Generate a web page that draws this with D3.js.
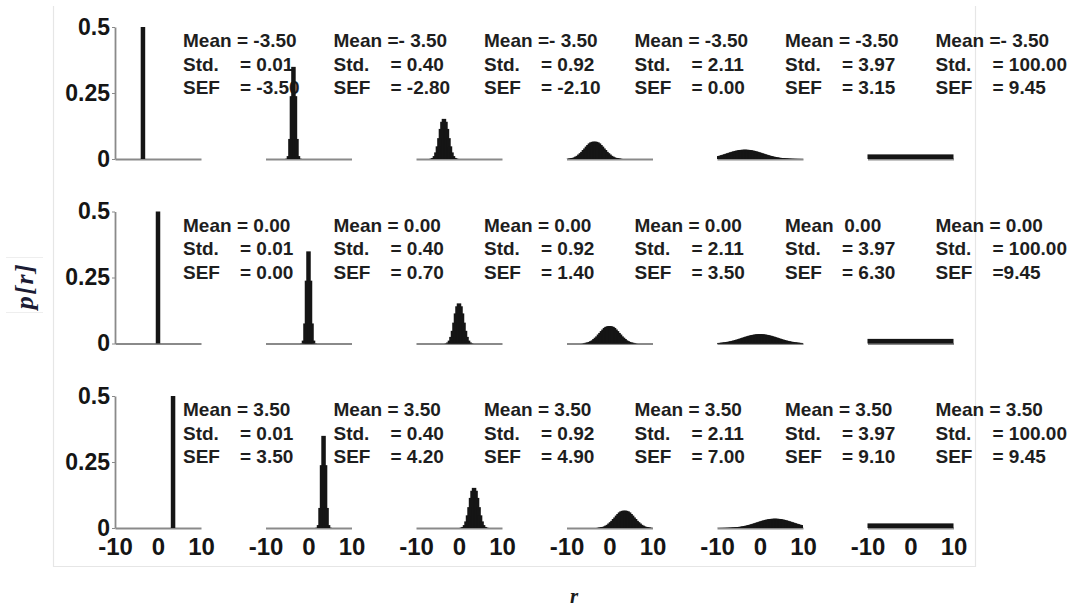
<!DOCTYPE html>
<html>
<head>
<meta charset="utf-8">
<script src="https://cdn.jsdelivr.net/npm/d3@7"></script>
<style>
  html, body { margin: 0; padding: 0; background: #fff; }
  svg { display: block; }
  text { white-space: pre; }
</style>
</head>
<body>
<svg id="chart" width="1072" height="609"></svg>
<script>
// ---------------- DATA ----------------
const rowMeans = [-3.5, 0, 3.5];                 // mean of r for each row
const colStd = [0.01, 0.40, 0.92, 2.11, 3.97, 100.00];
const binStep = 0.35;                            // width of an r bin

// half profiles of p[r] (centre bin, then bins 1,2,3... away from the mean)
const profileStd001 = [0.5];
const profileStd040 = [0.349, 0.238, 0.076, 0.011, 0.001];
const profileStd092 = [0.152, 0.141, 0.114, 0.079, 0.048, 0.025, 0.011, 0.004, 0.0015];
const profileStd211 = [0.066, 0.065, 0.063, 0.059, 0.053, 0.047, 0.040, 0.034, 0.027,
                       0.022, 0.017, 0.012, 0.009, 0.006, 0.004, 0.003, 0.002, 0.001];
const profileStd397 = [0.0352, 0.0350, 0.0346, 0.0340, 0.0330, 0.0319, 0.0306, 0.0291,
                       0.0274, 0.0257, 0.0238, 0.0220, 0.0201, 0.0182, 0.0164, 0.0147,
                       0.0130, 0.0114, 0.0100, 0.0086, 0.0074, 0.0063, 0.0054, 0.0045,
                       0.0037, 0.0031, 0.0025, 0.0021, 0.0017, 0.0013, 0.0011, 0.0008,
                       0.0006, 0.0005, 0.0004, 0.0003, 0.0002, 0.0002, 0.0001];
const uniformLevel = 0.0175;                     // std = 100 -> flat over [-10, 10]
const colProfiles = [profileStd001, profileStd040, profileStd092, profileStd211, profileStd397, null];

// annotation texts
const meanText = [
  ["= -3.50", "=- 3.50", "=- 3.50", "= -3.50", "= -3.50", "=- 3.50"],
  ["= 0.00",  "= 0.00",  "= 0.00",  "= 0.00",  " 0.00",   "= 0.00"],
  ["= 3.50",  "= 3.50",  "= 3.50",  "= 3.50",  "= 3.50",  "= 3.50"]
];
const stdText = ["= 0.01", "= 0.40", "= 0.92", "= 2.11", "= 3.97", "= 100.00"];
const sefText = [
  ["= -3.50", "= -2.80", "= -2.10", "= 0.00", "= 3.15", "= 9.45"],
  ["= 0.00",  "= 0.70",  "= 1.40",  "= 3.50", "= 6.30", "=9.45"],
  ["= 3.50",  "= 4.20",  "= 4.90",  "= 7.00", "= 9.10", "= 9.45"]
];
const xTicks = [-10, 0, 10];
const xTickLabels = ["-10", "0", "10"];
const yTicks = [0, 0.25, 0.5];
const yTickLabels = ["0", "0.25", "0.5"];

// ---------------- LAYOUT ----------------
const svg = d3.select("#chart");
const panelX0 = 115, colStep = 150.5, panelW = 86;
const rowZero = 159, rowStep = 184.5, panelH = 132;
const barW = 4.5;
const ink = "#151515", axisGray = "#8a8a8a";

// outer faint frame
svg.append("path")
  .attr("d", "M53.5,6 V566.5 H975.5 V6")
  .attr("fill", "none").attr("stroke", "#e6e6e6").attr("stroke-width", 1.2);

rowMeans.forEach((mean, ri) => {
  const y0 = rowZero + ri * rowStep;
  const y = d3.scaleLinear().domain([0, 0.5]).range([y0, y0 - panelH]).clamp(true);

  colStd.forEach((sd, ci) => {
    const xs = panelX0 + ci * colStep;
    const x = d3.scaleLinear().domain([-10, 10]).range([xs, xs + panelW]);
    const g = svg.append("g");

    // x axis line (labels only on bottom row)
    const xAxis = d3.axisBottom(x).tickValues(ri === 2 ? xTicks : [])
      .tickSize(0).tickSizeOuter(0).tickPadding(10)
      .tickFormat(d => xTickLabels[xTicks.indexOf(d)]);
    const ax = g.append("g").attr("transform", `translate(0,${y0})`).call(xAxis);
    ax.select(".domain").attr("stroke", axisGray).attr("stroke-width", 1.8);
    ax.selectAll("text")
      .attr("font-family", "'Liberation Sans', Arial, sans-serif")
      .attr("font-weight", "bold").attr("font-size", 24).attr("fill", ink);

    // y axis on first column only
    if (ci === 0) {
      const yAxis = d3.axisLeft(y).tickValues(yTicks).tickSize(3).tickSizeOuter(0)
        .tickPadding(2).tickFormat((d, i) => yTickLabels[i]);
      const ay = g.append("g").attr("transform", `translate(${xs},0)`).call(yAxis);
      ay.select(".domain").attr("stroke", axisGray).attr("stroke-width", 1.8);
      ay.selectAll(".tick line").attr("stroke", axisGray);
      ay.selectAll("text")
        .attr("font-family", "'Liberation Sans', Arial, sans-serif")
        .attr("font-weight", "bold").attr("font-size", 23).attr("fill", ink);
    }

    // distribution
    const prof = colProfiles[ci];
    if (prof) {
      const bins = [];
      prof.forEach((p, k) => {
        bins.push({ r: mean + k * binStep, p });
        if (k > 0) bins.push({ r: mean - k * binStep, p });
      });
      const vis = bins.filter(b => b.r >= -10 && b.r <= 10);
      g.selectAll("rect.bin").data(vis).enter().append("rect")
        .attr("class", "bin")
        .attr("x", d => Math.max(x(-10), x(d.r) - barW / 2))
        .attr("width", d => Math.min(x(10), x(d.r) + barW / 2) - Math.max(x(-10), x(d.r) - barW / 2))
        .attr("y", d => y(d.p))
        .attr("height", d => y0 - y(d.p))
        .attr("fill", ink);
    } else {
      g.append("rect")
        .attr("x", x(-10)).attr("width", x(10) - x(-10))
        .attr("y", y(uniformLevel)).attr("height", y0 - y(uniformLevel))
        .attr("fill", ink);
    }

    // annotation
    const tx = xs + 68, ty = y0 - panelH + 20;
    const t = g.append("g")
      .attr("font-family", "'Liberation Sans', Arial, sans-serif")
      .attr("font-weight", "bold").attr("font-size", 19).attr("fill", "#1e1e1e");
    const lines = [["Mean", meanText[ri][ci]], ["Std.", stdText[ci]], ["SEF", sefText[ri][ci]]];
    lines.forEach((ln, li) => {
      t.append("text").attr("x", tx).attr("y", ty + li * 23.5).text(ln[0]);
      t.append("text").attr("x", tx + (li === 0 ? 54 : 57)).attr("y", ty + li * 23.5).text(ln[1]);
    });
  });
});

// y-axis title with faint box
svg.append("path").attr("d", "M6,257.5 H43 M6,312.5 H43")
  .attr("stroke", "#eeeeee").attr("stroke-width", 1).attr("fill", "none");
svg.append("text")
  .attr("transform", "translate(33,286) rotate(-90)")
  .attr("text-anchor", "middle")
  .attr("font-family", "'Liberation Serif', 'Times New Roman', serif")
  .attr("font-style", "italic").attr("font-weight", "bold")
  .attr("font-size", 26).attr("letter-spacing", 1.5).attr("fill", "#1c1c34")
  .text("p[r]");

// x-axis title
svg.append("text")
  .attr("x", 574).attr("y", 603)
  .attr("text-anchor", "middle")
  .attr("font-family", "'Liberation Serif', 'Times New Roman', serif")
  .attr("font-style", "italic").attr("font-weight", "bold")
  .attr("font-size", 21).attr("fill", "#1c1c1c")
  .text("r");
</script>
</body>
</html>
